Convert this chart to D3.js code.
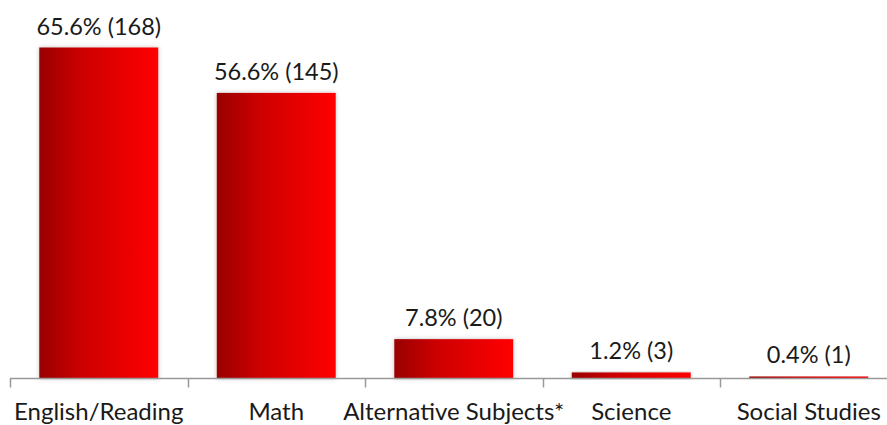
<!DOCTYPE html>
<html>
<head>
<meta charset="utf-8">
<script src="https://cdn.jsdelivr.net/npm/d3@7"></script>
<style>
  html, body { margin: 0; padding: 0; background: #fff; }
  svg { display: block; }
  text { font-family: Lato, "Open Sans", sans-serif; fill: #1a1a1a; }
</style>
</head>
<body>
<script>
const categories = ["English/Reading", "Math", "Alternative Subjects*", "Science", "Social Studies"];
const percents = [65.6, 56.6, 7.8, 1.2, 0.4];
const counts = [168, 145, 20, 3, 1];

const W = 887, H = 425;
const svg = d3.select("body").append("svg").attr("width", W).attr("height", H);

const defs = svg.append("defs");
const grad = defs.append("linearGradient").attr("id", "barFill")
  .attr("x1", "0%").attr("x2", "100%").attr("y1", "0%").attr("y2", "0%");
grad.append("stop").attr("offset", "0%").attr("stop-color", "#990000");
grad.append("stop").attr("offset", "35%").attr("stop-color", "#cc0000");
grad.append("stop").attr("offset", "100%").attr("stop-color", "#ff0000");

const shadow = defs.append("filter").attr("id", "barShadow")
  .attr("x", "-10%").attr("y", "-10%").attr("width", "120%").attr("height", "120%");
shadow.append("feDropShadow").attr("dx", 0).attr("dy", 0).attr("stdDeviation", 2)
  .attr("flood-color", "#000").attr("flood-opacity", 0.25);

const x = d3.scaleBand().domain(categories).range([10, 897.5]).paddingInner(0.33).paddingOuter(0.165);
const band = d3.scaleBand().domain(categories).range([10, 897.5]);
const y = d3.scaleLinear().domain([0, 70]).range([378.5, 25.3]);

// bars
svg.append("g").selectAll("rect").data(categories).join("rect")
  .attr("x", d => x(d))
  .attr("width", x.bandwidth())
  .attr("y", (d, i) => y(percents[i]))
  .attr("height", (d, i) => y(0) - y(percents[i]))
  .attr("fill", "url(#barFill)")
  .attr("filter", "url(#barShadow)");

// value labels
svg.append("g").selectAll("text").data(categories).join("text")
  .attr("x", d => x(d) + x.bandwidth() / 2)
  .attr("y", (d, i) => y(percents[i]) - 13)
  .attr("text-anchor", "middle")
  .attr("font-size", 23.5)
  .text((d, i) => `${percents[i].toFixed(1)}% (${counts[i]})`);

// category axis
const axis = svg.append("g");
axis.append("line").attr("x1", 10).attr("x2", W).attr("y1", 378.5).attr("y2", 378.5)
  .attr("stroke", "#999").attr("stroke-width", 1.5);
const tickPos = categories.map(d => band(d)).concat([band.range()[1]]);
axis.selectAll("line.tick").data(tickPos).join("line").attr("class", "tick")
  .attr("x1", d => Math.round(d) + 0.5).attr("x2", d => Math.round(d) + 0.5)
  .attr("y1", 378.5).attr("y2", 387.5)
  .attr("stroke", "#999").attr("stroke-width", 1.5);
axis.selectAll("text").data(categories).join("text")
  .attr("x", d => band(d) + band.bandwidth() / 2)
  .attr("y", 420)
  .attr("text-anchor", "middle")
  .attr("font-size", 24)
  .text(d => d);
</script>
</body>
</html>
